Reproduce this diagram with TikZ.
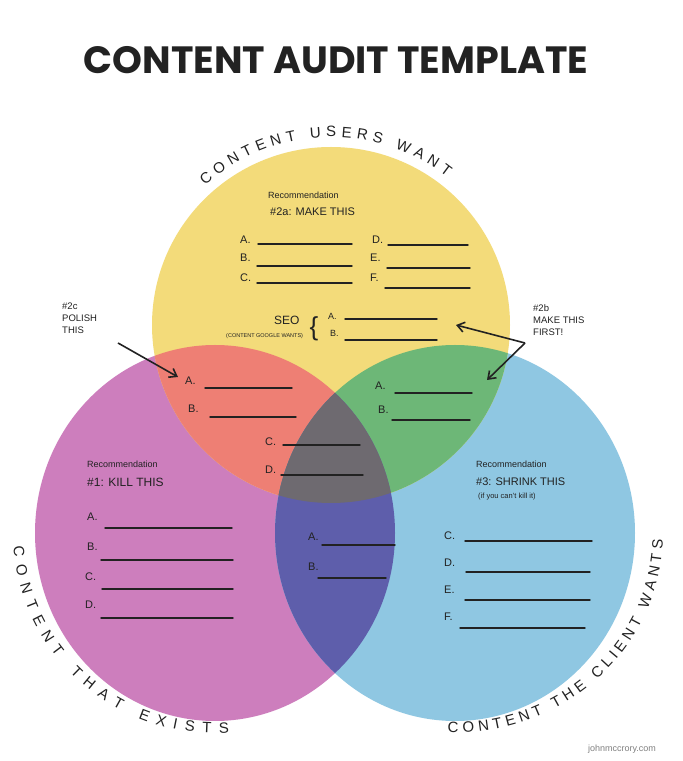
\documentclass[tikz,border=0pt]{standalone}
\usepackage{fontspec}
\setmainfont{Liberation Sans}
\newfontfamily\titlefont{Poppins}
\usetikzlibrary{decorations.text,arrows.meta}
\definecolor{cy}{HTML}{F3DB7A}
\definecolor{cp}{HTML}{CD7EBD}
\definecolor{cb}{HTML}{8FC7E2}
\definecolor{cr}{HTML}{EE7F74}
\definecolor{cg}{HTML}{6DB777}
\definecolor{cu}{HTML}{5E5EAB}
\definecolor{ck}{HTML}{6E6A70}
\definecolor{ink}{HTML}{222222}
\tikzset{
  lbl/.style={anchor=base west,inner sep=0pt,font=\fontsize{11}{12}\selectfont,text=ink},
  ln/.style={draw=ink,line width=1.4pt,line cap=round},
  rec/.style={anchor=base west,inner sep=0pt,text=ink},
  note/.style={anchor=north west,inner sep=0pt,align=left,font=\fontsize{9.5}{12}\selectfont,text=ink},
  arr/.style={draw=ink,line width=1.6pt,-{Straight Barb[length=7pt,width=10pt]}},
  curv/.style={decorate,decoration={text along path,text align={fit to path},text={|\fontsize{15}{15}\selectfont\color{ink}|#1}}}
}
\newcommand\bl[3]{\draw[ln] (#1,#3) -- (#2,#3);}
\begin{document}
\begin{tikzpicture}[x=1pt,y=1pt]
\useasboundingbox (0,0) rectangle (683,761);
\fill[white] (0,0) rectangle (683,761);
\def\Yc{(331,436) ellipse [x radius=179,y radius=178]}
\def\Pc{(215,228) ellipse [x radius=180,y radius=188]}
\def\Bc{(455,228) ellipse [x radius=180,y radius=188]}
\fill[cp] \Pc; \fill[cb] \Bc; \fill[cy] \Yc;
\begin{scope}\clip \Yc; \fill[cr] \Pc; \fill[cg] \Bc; \end{scope}
\begin{scope}\clip \Pc; \fill[cu] \Bc; \end{scope}
\begin{scope}\clip \Yc; \clip \Pc; \fill[ck] \Bc; \end{scope}

\node[inner sep=0pt,font=\titlefont\bfseries\fontsize{38}{38}\selectfont,text=ink] (title) at (336,701) {CONTENT AUDIT TEMPLATE};
\node[inner sep=0pt,font=\fontsize{9}{9}\selectfont,text=gray] (site) at (622,12) {johnmccrory.com};

\path[curv={CONTENT  USERS  WANT}] (331,436) ++(132:188) arc[start angle=132,end angle=52,radius=188];
\path[curv={CONTENT  THAT  EXISTS}] (215,228) ++(184:202 and 200) arc[start angle=184,end angle=274,x radius=202,y radius=200];
\path[curv={CONTENT  THE  CLIENT  WANTS}] (455,228) ++(268:208 and 200) arc[start angle=268,end angle=358,x radius=208,y radius=200];

% yellow
\node[rec,font=\fontsize{9}{9}\selectfont] (r2a) at (268,562) {Recommendation};
\node[rec,font=\fontsize{11}{11}\selectfont] (r2b) at (270,545) {\#2a: MAKE THIS};
\node[lbl] (ya) at (240,517) {A.}; \bl{258}{352}{517}
\node[lbl] (yd) at (372,517) {D.}; \bl{388}{468}{516}
\node[lbl] (yb) at (240,499) {B.}; \bl{257}{352}{495}
\node[lbl] (ye) at (370,499) {E.}; \bl{387}{470}{493}
\node[lbl] (yc) at (240,479) {C.}; \bl{257}{352}{478}
\node[lbl] (yf) at (370,479) {F.}; \bl{385}{470}{473}
\node[rec,font=\fontsize{12}{12}\selectfont] (seo) at (274,436) {SEO};
\node[rec,font=\fontsize{5.5}{6}\selectfont] (gw) at (226,423) {(CONTENT GOOGLE WANTS)};
\node[inner sep=0pt,font=\fontsize{26}{26}\selectfont,text=ink] (brace) at (314,432) {\{};
\node[lbl,font=\fontsize{9}{9}\selectfont] (sa) at (328,441) {A.}; \bl{345}{437}{442}
\node[lbl,font=\fontsize{9}{9}\selectfont] (sb) at (330,424) {B.}; \bl{345}{437}{421}

% notes
\node[note] (n2c) at (62,458) {\#2c\\POLISH\\THIS};
\node[note] (n2b) at (533,457) {\#2b\\MAKE THIS\\FIRST!};
\coordinate (c2c) at (118,418); \coordinate (t2c) at (178,384);
\draw[arr] (c2c) -- (t2c);
\coordinate (j2b) at (525,418); \coordinate (t2b1) at (456,436); \coordinate (t2b2) at (487,381);
\draw[arr] (j2b) -- (t2b1);
\draw[arr] (j2b) -- (t2b2);

% red
\node[lbl] (ra) at (185,376) {A.}; \bl{205}{292}{373}
\node[lbl] (rb) at (188,348) {B.}; \bl{210}{296}{344}
\node[lbl] (rc) at (265,315) {C.}; \bl{283}{360}{316}
\node[lbl] (rd) at (265,287) {D.}; \bl{281}{363}{286}
% green
\node[lbl] (ga) at (375,371) {A.}; \bl{395}{472}{368}
\node[lbl] (gb) at (378,347) {B.}; \bl{392}{470}{341}
% pink
\node[rec,font=\fontsize{9}{9}\selectfont] (r1a) at (87,293) {Recommendation};
\node[rec,font=\fontsize{12}{12}\selectfont] (r1b) at (87,274) {\#1: KILL THIS};
\node[lbl] (pa) at (87,240) {A.}; \bl{105}{232}{233}
\node[lbl] (pb) at (87,210) {B.}; \bl{101}{233}{201}
\node[lbl] (pc) at (85,180) {C.}; \bl{102}{233}{172}
\node[lbl] (pd) at (85,152) {D.}; \bl{101}{233}{143}
% purple
\node[lbl] (ua) at (308,220) {A.}; \bl{322}{395}{216}
\node[lbl] (ub) at (308,190) {B.}; \bl{318}{386}{183}
% blue
\node[rec,font=\fontsize{9}{9}\selectfont] (r3a) at (476,293) {Recommendation};
\node[rec,font=\fontsize{11}{11}\selectfont] (r3b) at (476,275) {\#3: SHRINK THIS};
\node[rec,font=\fontsize{7.5}{8}\selectfont] (r3c) at (478,262) {(if you can't kill it)};
\node[lbl] (bc) at (444,221) {C.}; \bl{465}{592}{220}
\node[lbl] (bd) at (444,194) {D.}; \bl{466}{590}{189}
\node[lbl] (be) at (444,167) {E.}; \bl{465}{590}{161}
\node[lbl] (bf) at (444,140) {F.}; \bl{460}{585}{133}
\end{tikzpicture}
\end{document}
